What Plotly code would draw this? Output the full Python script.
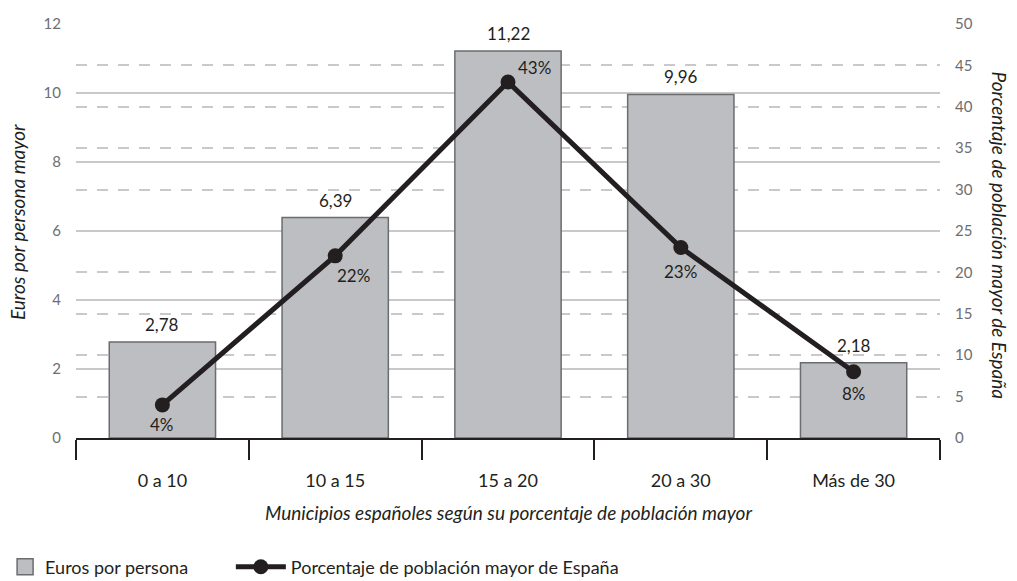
import plotly.graph_objects as go

# Categories and series
categorias = ["0 a 10", "10 a 15", "15 a 20", "20 a 30", "Más de 30"]
euros_por_persona = [2.78, 6.39, 11.22, 9.96, 2.18]
porcentaje_poblacion = [4, 22, 43, 23, 8]

# Offsets (px) of the percentage labels relative to each point
pct_xshift = [0, 18, 26, 0, 0]
pct_yshift = [-20, -20, 14, -24, -22]

FONT = "Lato"
BAR_FILL = "#bdbec1"
BAR_LINE = "#6b6c6f"
LINE_COLOR = "#231f20"
TEXT = "#231f20"
TICK_TEXT = "#6d6e71"
GRID = "#c9c9c9"

fig = go.Figure()

fig.add_trace(go.Bar(
    x=categorias, y=euros_por_persona, name="Euros por persona",
    marker=dict(color=BAR_FILL, line=dict(color=BAR_LINE, width=1.5)),
    width=0.615, yaxis="y", showlegend=False,
))

# Legend-only entry for the bars, with a larger square swatch
fig.add_trace(go.Scatter(
    x=[None], y=[None], name="Euros por persona", mode="markers",
    marker=dict(symbol="square", size=20, color=BAR_FILL,
                line=dict(color=BAR_LINE, width=1.5)),
    legend="legend",
))

fig.add_trace(go.Scatter(
    x=categorias, y=porcentaje_poblacion, name="Porcentaje de población mayor de España",
    mode="lines+markers", yaxis="y2",
    line=dict(color=LINE_COLOR, width=5),
    marker=dict(color=LINE_COLOR, size=15),
    legend="legend2",
))

annotations = []
for c, v in zip(categorias, euros_por_persona):
    annotations.append(dict(
        x=c, y=v, xref="x", yref="y", text=f"{v:.2f}".replace(".", ","),
        showarrow=False, yanchor="bottom", yshift=5,
        font=dict(family=FONT, size=17, color=TEXT),
    ))
for c, p, dx, dy in zip(categorias, porcentaje_poblacion, pct_xshift, pct_yshift):
    annotations.append(dict(
        x=c, y=p, xref="x", yref="y2", text=f"{p}%",
        showarrow=False, xshift=dx, yshift=dy,
        font=dict(family=FONT, size=17, color=TEXT),
    ))

# Axis titles
annotations.append(dict(
    x=-0.067, y=0.522, xref="paper", yref="paper", textangle=-90,
    xanchor="center", yanchor="middle",
    text="Euros por persona mayor", showarrow=False,
    font=dict(family=FONT, size=19, color=TEXT, style="italic"),
))
annotations.append(dict(
    x=1.069, y=0.49, xref="paper", yref="paper", textangle=90,
    xanchor="center", yanchor="middle",
    text="Porcentaje de población mayor de España", showarrow=False,
    font=dict(family=FONT, size=19, color=TEXT, style="italic"),
))
annotations.append(dict(
    x=0.5, y=-0.179, xref="paper", yref="paper", xanchor="center", yanchor="middle",
    text="Municipios españoles según su porcentaje de población mayor", showarrow=False,
    font=dict(family=FONT, size=19, color=TEXT, style="italic"),
))

legend_common = dict(
    orientation="h", xref="container", yref="container",
    yanchor="middle", y=0.024, xanchor="left",
    font=dict(family=FONT, size=18, color=TEXT),
    bgcolor="rgba(0,0,0,0)",
)

fig.update_layout(
    width=1017, height=581,
    margin=dict(l=76, r=77, t=24, b=143),
    paper_bgcolor="white", plot_bgcolor="white",
    font=dict(family=FONT, color=TEXT),
    annotations=annotations,
    xaxis=dict(
        type="category", range=[-0.5, 4.5], automargin=False,
        showgrid=False, showline=True, linecolor=TEXT, linewidth=1.5,
        ticks="outside", tickson="boundaries", ticklen=20, tickcolor=TEXT, tickwidth=1.5,
        ticklabelstandoff=26,
        tickfont=dict(family=FONT, size=18, color=TEXT),
    ),
    yaxis=dict(
        range=[0, 12], dtick=2, automargin=False,
        showgrid=True, gridcolor=GRID, gridwidth=1.5,
        zeroline=False, showline=False, ticks="",
        ticklabelstandoff=14,
        tickfont=dict(family=FONT, size=15, color=TICK_TEXT),
    ),
    yaxis2=dict(
        range=[0, 50], dtick=5, overlaying="y", side="right", automargin=False,
        showgrid=True, gridcolor=GRID, gridwidth=1.5, griddash="11px,10px",
        zeroline=False, showline=False, ticks="",
        ticklabelstandoff=14,
        tickfont=dict(family=FONT, size=15, color=TICK_TEXT),
    ),
    legend=dict(legend_common, x=0.005, itemwidth=30),
    legend2=dict(legend_common, x=0.227, itemwidth=50),
)

fig.write_html("out.html")
